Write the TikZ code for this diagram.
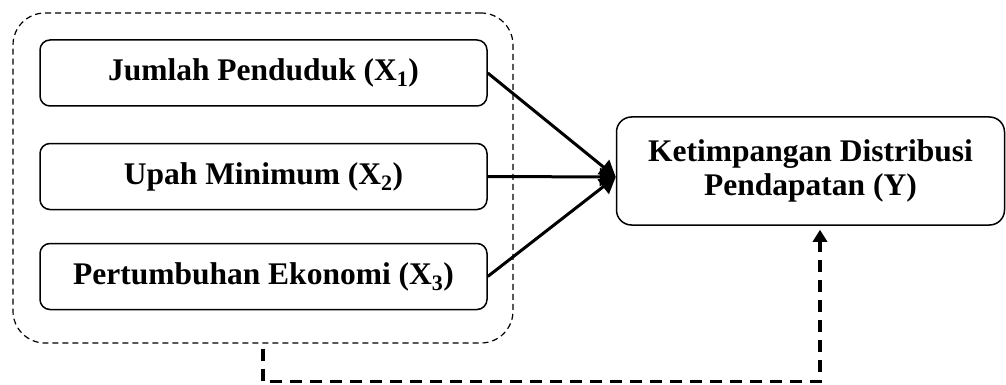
\documentclass[tikz,border=0pt]{standalone}
\usepackage{fontspec}
\setmainfont{Liberation Serif}
\usetikzlibrary{arrows.meta}
\begin{document}
\begin{tikzpicture}[x=1pt,y=-1pt,
  varbox/.style={draw,line width=1.5pt,rounded corners=10pt,minimum width=447pt,minimum height=66pt,inner sep=0pt,font=\fontsize{31.5}{36}\selectfont\bfseries},
  ybox/.style={draw,line width=1.5pt,rounded corners=15pt,minimum width=388pt,minimum height=108pt,inner sep=0pt,align=center,font=\fontsize{31.5}{34}\selectfont\bfseries},
  grpbox/.style={draw,dashed,dash pattern=on 6pt off 4pt,line width=1.2pt,rounded corners=32pt,minimum width=500pt,minimum height=330pt,inner sep=0pt},
  solidarrow/.style={line width=3pt,-{Triangle[length=16pt,width=18pt]}},
  dasharrow/.style={line width=3.5pt,dash pattern=on 12pt off 8pt,-{Triangle[length=12pt,width=14pt]}}
]
\useasboundingbox (0,0) rectangle (1006,385);
\node[grpbox] (grp) at (263,178) {};
\node[varbox] (x1) at (263.5,73) {Jumlah Penduduk (X\textsubscript{1})};
\node[varbox] (x2) at (263.5,176.5) {Upah Minimum (X\textsubscript{2})};
\node[varbox] (x3) at (263.5,276.5) {Pertumbuhan Ekonomi (X\textsubscript{3})};
\node[ybox] (y) at (810.5,171) {Ketimpangan Distribusi\\Pendapatan (Y)};
\coordinate (tip) at ([yshift=-6pt]y.west);
\draw[solidarrow] (x1.east) -- (tip);
\draw[solidarrow] (x2.east) -- (tip);
\draw[solidarrow] (x3.east) -- (tip);
\draw[dasharrow] ([yshift=-5pt]grp.south) |- ++(0,33) -| ([yshift=-4pt]y.south -| 820,0);
\end{tikzpicture}
\end{document}
